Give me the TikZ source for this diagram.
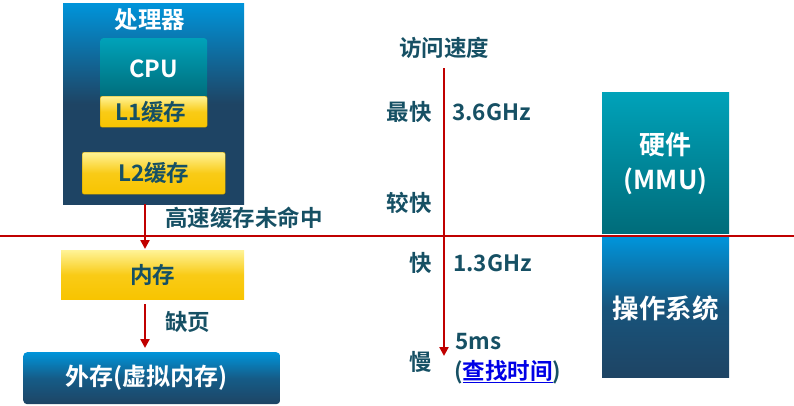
\documentclass[tikz,border=0pt]{standalone}
\usepackage{fontspec}
\setmainfont{Noto Sans CJK SC}[BoldFont=* Bold]
\usetikzlibrary{arrows.meta}
\definecolor{txt}{RGB}{22,80,100}
\definecolor{navy}{RGB}{30,68,100}
\definecolor{bblue}{RGB}{0,148,218}
\definecolor{tealtop}{RGB}{0,162,185}
\definecolor{tealbot}{RGB}{0,108,122}
\definecolor{ytop}{RGB}{255,243,150}
\definecolor{ybot}{RGB}{248,196,0}
\definecolor{redline}{RGB}{192,0,0}
\definecolor{linkblue}{RGB}{0,0,230}
\tikzset{
  lab/.style={font=\fontsize{22.5}{25}\selectfont\bfseries, text=txt, inner sep=0pt},
  wlab/.style={font=\fontsize{22.5}{25}\selectfont\bfseries, text=white, inner sep=0pt},
  bluebox/.style={rectangle, top color=bblue, bottom color=navy, middle color=navy, inner sep=0pt},
  tealbox/.style={rectangle, top color=tealtop, bottom color=tealbot, inner sep=0pt},
  yelbox/.style={rectangle, top color=ytop, bottom color=ybot, middle color=ybot!85!ytop, inner sep=0pt},
  arr/.style={draw=redline, line width=2.6pt, -{Triangle[length=9pt,width=9pt]}},
  redrule/.style={draw=redline, line width=2.6pt}
}
\begin{document}
\begin{tikzpicture}[x=1pt,y=-1pt]
\useasboundingbox (0,0) rectangle (794,405);
% processor
\node[bluebox, minimum width=181pt, minimum height=201pt, anchor=north west] (proc) at (63,3) {};
\node[wlab, font=\fontsize{23.5}{25}\selectfont\bfseries] (ptitle) at (150,20) {处理器};
\node[tealbox, rounded corners=3pt, minimum width=107pt, minimum height=60pt, anchor=north west] (cpu) at (100,38) {};
\node[wlab, font=\fontsize{23.5}{25}\selectfont\bfseries] at ([yshift=-1pt]cpu.center) {CPU};
\node[yelbox, rounded corners=2pt, minimum width=107pt, minimum height=31pt, anchor=north west, draw=ybot!80!black, line width=0.4pt] (l1) at (100,96) {};
\node[lab] at ([xshift=-3pt]l1.center) {L1缓存};
\node[yelbox, rounded corners=2pt, minimum width=143pt, minimum height=42pt, anchor=north west, draw=ybot!80!black, line width=0.4pt] (l2) at (82,152) {};
\node[lab] at (l2.center) {L2缓存};
% red horizontal rule
\coordinate (hl) at (0,236);
\coordinate (hr) at (794,236);
\draw[redrule] (hl) -- (hr);
% memory
\node[yelbox, minimum width=183pt, minimum height=49pt, anchor=north west] (mem) at (61,250) {};
\node[lab] at (mem.center) {内存};
% external storage
\node[bluebox, middle color=navy!70!bblue, rounded corners=4pt, minimum width=257pt, minimum height=52pt, anchor=north west] (ext) at (23,352) {};
\node[wlab, font=\fontsize{24}{26}\selectfont\bfseries] at ([xshift=-5pt]ext.center) {外存(虚拟内存)};
% arrows
\draw[arr] (proc.south -| 145,0) -- ([yshift=1pt]mem.north -| 145,0);
\node[lab, anchor=west] (miss) at (165,218) {高速缓存未命中};
\draw[arr] ([yshift=-5pt]mem.south -| 145,0) -- ([yshift=4pt]ext.north -| 145,0);
\node[lab, anchor=west] (fault) at (165,322) {缺页};
% speed axis
\node[lab] (speed) at (444,48) {访问速度};
\coordinate (atop) at (444,68);
\coordinate (abot) at (444,356);
\draw[arr] (atop) -- (abot);
\node[lab, anchor=east] at (432,112) {最快};
\node[lab, anchor=west] at (452,112) {3.6GHz};
\node[lab, anchor=east] at (432,203) {较快};
\node[lab, anchor=east] at (432,263) {快};
\node[lab, anchor=west] at (453,263) {1.3GHz};
\node[lab, anchor=west] at (455,342) {5ms};
\node[lab, anchor=east] at (432,362) {慢};
\node[lab, anchor=west] at (454,372) {(\textcolor{linkblue}{\underline{查找时间}})};
% hardware / OS
\node[tealbox, minimum width=127pt, minimum height=141pt, anchor=north west] (hw) at (602,92) {};
\node[wlab, font=\fontsize{26}{35}\selectfont\bfseries, align=center] at ([yshift=-1pt]hw.center) {硬件\\(MMU)};
\node[bluebox, middle color=navy!80!bblue, minimum width=127pt, minimum height=140pt, anchor=north west] (os) at (602,237) {};
\node[wlab, font=\fontsize{26.5}{28}\selectfont\bfseries] at ([yshift=-1pt]os.center) {操作系统};
\end{tikzpicture}
\end{document}
